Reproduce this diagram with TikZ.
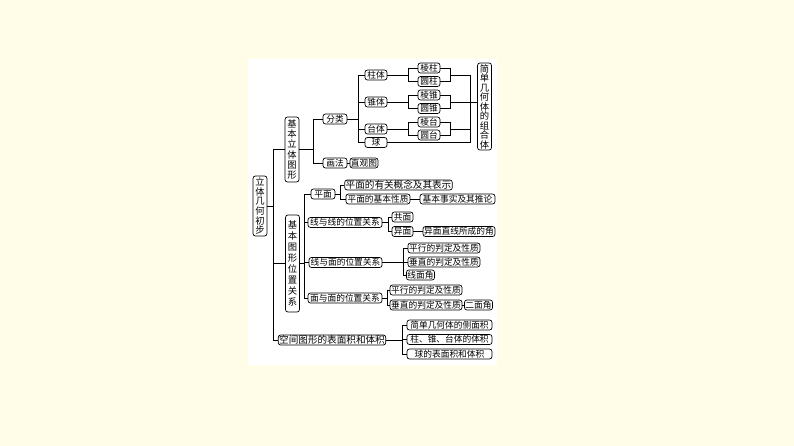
\documentclass[tikz,border=0pt]{standalone}
\usepackage{fontspec}
\setmainfont{Noto Sans CJK SC}
\definecolor{paper}{HTML}{FFFCE8}
\begin{document}
\begin{tikzpicture}
	[x=1pt, y=-1pt, line width=0.7pt,
	box/.style ={draw, rounded corners=2.5pt, inner xsep=1pt, inner ysep=0pt, minimum height=10pt, font=\fontsize{8.7}{10}\selectfont},
	vbox/.style ={box, align=center, minimum width=14pt, font=\fontsize{9.3}{#1}\selectfont},
	wide/.style ={font=\fontsize{9.6}{10}\selectfont}]
	\path[use as bounding box, fill=paper] (0,0) rectangle (794,446);
	\fill[white] (248,59) rectangle (497,365);
	% branch points
	\coordinate (tk) at (273,0);
	\coordinate (ka) at (313,0);
	\coordinate (kb) at (304,0);
	\coordinate (fa) at (358,0);
	\coordinate (za) at (408,0);
	\coordinate (zb) at (450,0);
	\coordinate (zc) at (470,0);
	\coordinate (pa) at (340,0);
	\coordinate (xa) at (388,0);
	\coordinate (xb) at (403,0);
	\coordinate (ma) at (387,0);
	\coordinate (sa) at (402,0);
	% main branches
	\node[vbox=9.7, minimum height=60pt] (lt) at (260,206) {立\\体\\几\\何\\初\\步};
	\node[vbox=10.2, minimum height=65pt] (jl) at (292,149.5) {基\\本\\立\\体\\图\\形};
	\node[vbox=11, minimum height=97pt] (jw) at (292.5,263.5) {基\\本\\图\\形\\位\\置\\关\\系};
	\node[box, wide, minimum width=102pt] (kj) at (332,340) {空间图形的表面积和体积};
	% solids
	\node[box, minimum width=24pt] (fl) at (335,119) {分类};
	\node[box, minimum width=24pt] (hf) at (335,163) {画法};
	\node[box, minimum width=28pt] (zg) at (364,163) {直观图};
	\node[box, minimum width=22pt] (zt) at (376,75) {柱体};
	\node[box, minimum width=22pt] (zh) at (376,102) {锥体};
	\node[box, minimum width=22pt] (tt) at (376,129) {台体};
	\node[box, minimum width=22pt] (qi) at (376,142.5) {球};
	\node[box, minimum width=22pt] (lz) at (429,68) {棱柱};
	\node[box, minimum width=22pt] (yz) at (429,81.5) {圆柱};
	\node[box, minimum width=22pt] (lzh) at (429,95) {棱锥};
	\node[box, minimum width=22pt] (yzh) at (429,108.5) {圆锥};
	\node[box, minimum width=22pt] (ltai) at (429,122) {棱台};
	\node[box, minimum width=22pt] (ytai) at (429,135) {圆台};
	\node[vbox=9.5, minimum height=87pt] (zhe) at (484.5,106.5) {简\\单\\几\\何\\体\\的\\组\\合\\体};
	% positions
	\node[box, minimum width=24pt] (pm) at (323,194) {平面};
	\node[box, minimum width=74pt] (xx) at (345,222.5) {线与线的位置关系};
	\node[box, minimum width=73pt] (xm) at (345.5,262.5) {线与面的位置关系};
	\node[box, minimum width=74pt] (mm) at (345,298) {面与面的位置关系};
	\node[box, wide, minimum width=105pt] (gn) at (398.5,185) {平面的有关概念及其表示};
	\node[box, minimum width=64pt] (xz) at (378,199) {平面的基本性质};
	\node[box, minimum width=75pt] (ss) at (457.5,199) {基本事实及其推论};
	\node[box, minimum width=21pt] (gm) at (402.5,217) {共面};
	\node[box, minimum width=21pt] (ym) at (402.5,231.5) {异面};
	\node[box, minimum width=72pt] (yj) at (459,231.5) {异面直线所成的角};
	\node[box, minimum width=72pt] (px1) at (444,248) {平行的判定及性质};
	\node[box, minimum width=72pt] (cz1) at (444,262) {垂直的判定及性质};
	\node[box, minimum width=25pt] (xmj) at (420.5,275) {线面角};
	\node[box, minimum width=72pt] (px2) at (426,290) {平行的判定及性质};
	\node[box, minimum width=72pt] (cz2) at (426,305) {垂直的判定及性质};
	\node[box, minimum width=27pt] (emj) at (478.5,305) {二面角};
	% areas and volumes
	\node[box, minimum width=85pt] (cm) at (449.5,325) {简单几何体的侧面积};
	\node[box, minimum width=85pt] (tj) at (449.5,339.5) {柱、锥、台体的体积};
	\node[box, minimum width=85pt] (qb) at (449.5,354) {球的表面积和体积};
	% connectors
	\foreach \c in {jl,jw,kj} \draw (lt.east) -| (tk |- \c) -- (\c.west);
	\foreach \c in {fl,hf} \draw (jl.east) -| (ka |- \c) -- (\c.west);
	\draw (hf) -- (zg);
	\foreach \c in {zt,zh,tt,qi} \draw (fl.east) -| (fa |- \c) -- (\c.west);
	\foreach \p/\a/\b in {zt/lz/yz, zh/lzh/yzh, tt/ltai/ytai} {
		\draw (\p.east) -| (za |- \a) -- (\a.west);
		\draw (\p.east) -| (za |- \b) -- (\b.west);
		\draw (\a.east) -| (zb |- \b) -- (\b.east);
		\draw (zb |- \p) -- (zc |- \p);
	}
	\draw (qi.east) -| (zc |- zt);
	\draw (zc |- zh) -- (zh -| zhe.west);
	\foreach \c in {pm,xx,xm,mm} \draw (jw.east) -| (kb |- \c) -- (\c.west);
	\foreach \c in {gn,xz} \draw (pm.east) -| (pa |- \c) -- (\c.west);
	\draw (xz) -- (ss);
	\foreach \c in {gm,ym} \draw (xx.east) -| (xa |- \c) -- (\c.west);
	\draw (ym) -- (yj);
	\foreach \c in {px1,cz1,xmj} \draw (xm.east) -| (xb |- \c) -- (\c.west);
	\foreach \c in {px2,cz2} \draw (mm.east) -| (ma |- \c) -- (\c.west);
	\draw (cz2) -- (emj);
	\foreach \c in {cm,tj,qb} \draw (kj.east) -| (sa |- \c) -- (\c.west);
\end{tikzpicture}
\end{document}
